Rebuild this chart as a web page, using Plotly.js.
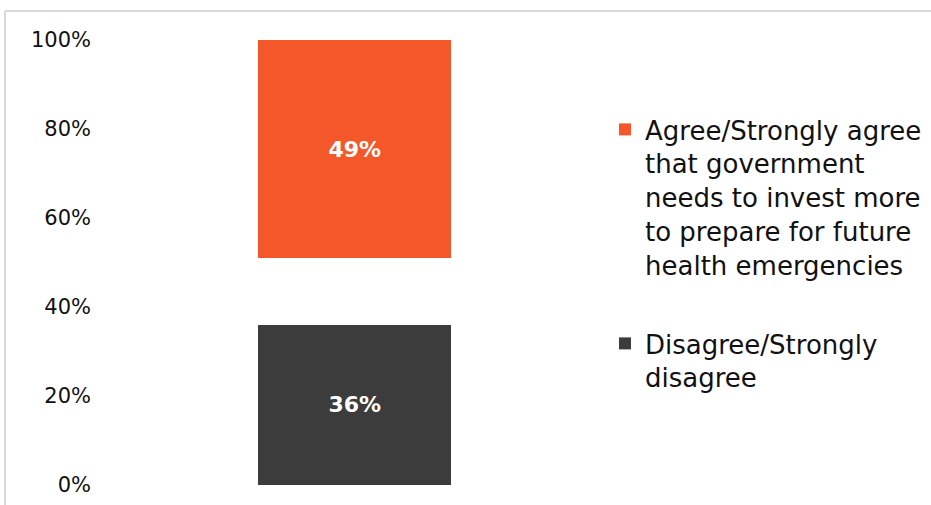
<!DOCTYPE html>
<html><head><meta charset="utf-8">
<script src="https://cdn.plot.ly/plotly-3.0.1.min.js"></script>
<style>html,body{margin:0;padding:0;background:#fff}</style>
</head><body>
<div id="chart" style="width:931px;height:505px"></div>
<script>
const category = [0];
const disagreeValues = [0.36];
const neutralValues = [0.15];
const agreeValues = [0.49];
const disagreeName = "Disagree/Strongly<br>disagree";
const agreeName = "Agree/Strongly agree<br>that government<br>needs to invest more<br>to prepare for future<br>health emergencies";

const W = 931, H = 505, L = 95, R = 0, T = 40, B = 20;
const pw = W - L - R, ph = H - T - B;
const font = "DejaVu Sans, sans-serif";
const barW = 0.644;

const traces = [
  {type:'bar', x:category, y:disagreeValues, width:barW, name:disagreeName,
   marker:{color:'#3C3C3C'}, text:disagreeValues.map(v=>'<b>'+Math.round(v*100)+'%</b>'),
   textposition:'inside', insidetextanchor:'middle', textfont:{color:'#fff', size:22, family:font},
   legendgroup:'d', legendrank:2, hoverinfo:'skip'},
  {type:'bar', x:category, y:neutralValues, width:barW, name:'Neutral', showlegend:false,
   marker:{color:'rgba(0,0,0,0)'}, hoverinfo:'skip'},
  {type:'bar', x:category, y:agreeValues, width:barW, name:agreeName,
   marker:{color:'#F4572A'}, text:agreeValues.map(v=>'<b>'+Math.round(v*100)+'%</b>'),
   textposition:'inside', insidetextanchor:'middle', textfont:{color:'#fff', size:22, family:font},
   legendgroup:'a', legendrank:1, hoverinfo:'skip'}
];

const layout = {
  width:W, height:H, barmode:'stack',
  margin:{l:L, r:R, t:T, b:B},
  paper_bgcolor:'#fff', plot_bgcolor:'rgba(0,0,0,0)',
  font:{family:font, color:'#111'},
  xaxis:{range:[-0.866, -0.866 + pw/300], showticklabels:false, showgrid:false, zeroline:false, showline:false, fixedrange:true},
  yaxis:{range:[0,1], tickvals:[0,0.2,0.4,0.6,0.8,1], tickformat:'.0%', showgrid:false, zeroline:false,
         showline:false, tickfont:{size:21, family:font, color:'#111'}, ticklabelstandoff:3},
  showlegend:true,
  legend:{x:(605-L)/pw, y:(H-B-106)/ph, xanchor:'left', yanchor:'top', traceorder:'grouped',
          tracegroupgap:42, valign:'top', font:{size:26, family:font, color:'#111'}, bgcolor:'rgba(0,0,0,0)'},
  shapes:[
    {type:'line', xref:'paper', yref:'paper', x0:(5-L)/pw, x1:(940-L)/pw, y0:(H-B-11)/ph, y1:(H-B-11)/ph, line:{color:'#d9d9d9', width:2}},
    {type:'line', xref:'paper', yref:'paper', x0:(5-L)/pw, x1:(5-L)/pw, y0:(H-B-11)/ph, y1:(H-B-510)/ph, line:{color:'#d9d9d9', width:2}}
  ]
};
Plotly.newPlot('chart', traces, layout, {displayModeBar:false, staticPlot:true});
</script>
</body></html>
